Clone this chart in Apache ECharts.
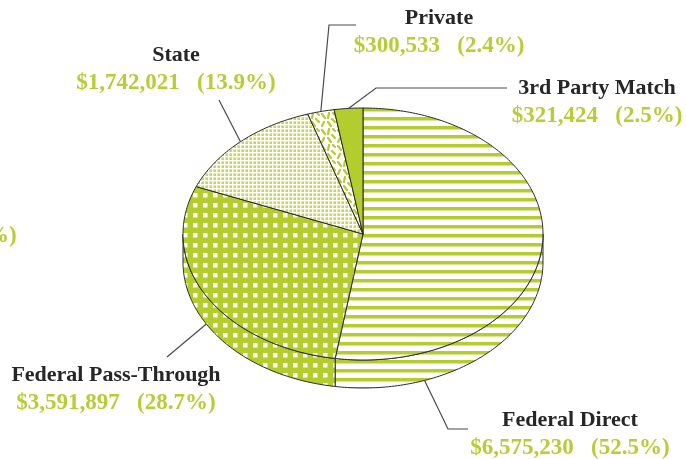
<!DOCTYPE html>
<html>
<head>
<meta charset="utf-8">
<script src="https://cdn.jsdelivr.net/npm/echarts@6/dist/echarts.min.js"></script>
<style>
  html, body { margin: 0; padding: 0; background: #fff; }
  #chart { width: 686px; height: 459px; }
</style>
</head>
<body>
<div id="chart"></div>
<script>
// data
const names = ['Federal Direct', 'Federal Pass-Through', 'State', 'Private', '3rd Party Match']
const amounts = [6575230, 3591897, 1742021, 300533, 321424]
const percents = [52.5, 28.7, 13.9, 2.4, 2.5]

// pie geometry (tilted disc)
const CX = 363, CY = 234, RX = 180, RY = 126, DEPTH = 28
const GREEN = '#b4cd2e'
const TEXT_GREEN = '#b5ce36'
const NAME_FONT = 'bold 22px "Liberation Serif", serif'
const VALUE_FONT = 'bold 23px "Liberation Serif", serif'

// label placement: anchor angle on the rim (deg, clockwise from top), leader bends, label centre
const labelLayout = [
  { anchor: 160, bends: [[448, 429], [468, 429]], at: [570, 420] },
  { anchor: null, bends: [[167, 357]], at: [116, 375] },
  { anchor: null, bends: [[219, 100]], at: [176, 55] },
  { anchor: null, bends: [[329, 25], [356, 25]], at: [439, 18] },
  { anchor: null, bends: [[376, 88], [507, 88]], at: [597, 88] }
]

function tile(w, h, draw) {
  const c = document.createElement('canvas')
  c.width = w
  c.height = h
  const ctx = c.getContext('2d')
  draw(ctx)
  return { image: c, repeat: 'repeat' }
}

const fills = [
  // horizontal stripes
  tile(4, 9, (ctx) => {
    ctx.fillStyle = '#fff'; ctx.fillRect(0, 0, 4, 9)
    ctx.fillStyle = GREEN; ctx.fillRect(0, 0, 4, 3.5)
  }),
  // green with white dots
  tile(10, 10, (ctx) => {
    ctx.fillStyle = GREEN; ctx.fillRect(0, 0, 10, 10)
    ctx.fillStyle = '#fff'
    ctx.fillRect(3, 3, 4.5, 4.5)
  }),
  // fine check
  tile(4, 4, (ctx) => {
    ctx.fillStyle = '#c4da55'; ctx.fillRect(0, 0, 4, 4)
    ctx.fillStyle = '#fff'
    ctx.fillRect(0, 0, 4, 1.4)
    ctx.fillRect(0, 0, 1.4, 4)
  }),
  // white with green dashes
  tile(16, 16, (ctx) => {
    ctx.fillStyle = '#fff'; ctx.fillRect(0, 0, 16, 16)
    ctx.strokeStyle = GREEN; ctx.lineWidth = 2.2; ctx.lineCap = 'round'
    const dashes = [[2, 2, 5, 6], [9, 1, 8, 6], [12, 7, 15, 10], [4, 10, 2, 14], [8, 10, 11, 14], [13, 1, 15, 3]]
    dashes.forEach(d => { ctx.beginPath(); ctx.moveTo(d[0], d[1]); ctx.lineTo(d[2], d[3]); ctx.stroke() })
  }),
  GREEN
]

const total = amounts.reduce((a, b) => a + b, 0)
let acc = 0
const slices = amounts.map((v, i) => {
  const s = acc / total
  acc += v
  return [s, acc / total, i]
})

function rim(deg, dy) {
  const r = deg * Math.PI / 180
  return [CX + RX * Math.sin(r), CY - RY * Math.cos(r) + (dy || 0)]
}

function arc(a0, a1, dy) {
  const pts = []
  const n = Math.max(2, Math.ceil(Math.abs(a1 - a0)))
  for (let k = 0; k <= n; k++) pts.push(rim(a0 + (a1 - a0) * k / n, dy))
  return pts
}

const stroke = { stroke: '#2b2b2b', lineWidth: 1 }

function renderItem(params, api) {
  const a0 = api.value(0) * 360
  const a1 = api.value(1) * 360
  const i = api.value(2)
  const children = []
  // side wall, only the front half is seen
  if (a1 > 90 && a0 < 270) {
    const s = Math.max(a0, 90), e = Math.min(a1, 270)
    const pts = arc(s, e, 0).concat(arc(e, s, DEPTH))
    children.push({ type: 'polygon', shape: { points: pts }, style: Object.assign({ fill: fills[i] }, stroke) })
  }
  // top face
  const top = [[CX, CY]].concat(arc(a0, a1, 0))
  children.push({ type: 'polygon', shape: { points: top }, style: Object.assign({ fill: fills[i] }, stroke) })
  // leader line and label
  const lay = labelLayout[i]
  const ang = lay.anchor != null ? lay.anchor : (a0 + a1) / 2
  const start = rim(ang, ang > 90 && ang < 270 ? DEPTH : 0)
  children.push({
    type: 'polyline',
    shape: { points: [start].concat(lay.bends) },
    style: { stroke: '#4a4a4a', lineWidth: 1.2, fill: null }
  })
  children.push({
    type: 'text', x: lay.at[0], y: lay.at[1],
    style: { text: names[i], fill: '#262626', font: NAME_FONT, align: 'center', verticalAlign: 'middle' }
  })
  children.push({
    type: 'text', x: lay.at[0], y: lay.at[1] + 28,
    style: {
      text: '$' + amounts[i].toLocaleString('en-US') + '   (' + percents[i].toFixed(1) + '%)',
      fill: TEXT_GREEN, font: VALUE_FONT, align: 'center', verticalAlign: 'middle'
    }
  })
  return { type: 'group', children: children }
}

const myChart = echarts.init(document.getElementById('chart'))
myChart.setOption({
  animation: false,
  backgroundColor: '#fff',
  graphic: [{
    type: 'text', left: -14, top: 225,
    style: { text: '%)', fill: TEXT_GREEN, font: VALUE_FONT }
  }],
  series: [{
    type: 'custom',
    coordinateSystem: 'none',
    silent: true,
    renderItem: renderItem,
    data: slices
  }]
})
</script>
</body>
</html>
